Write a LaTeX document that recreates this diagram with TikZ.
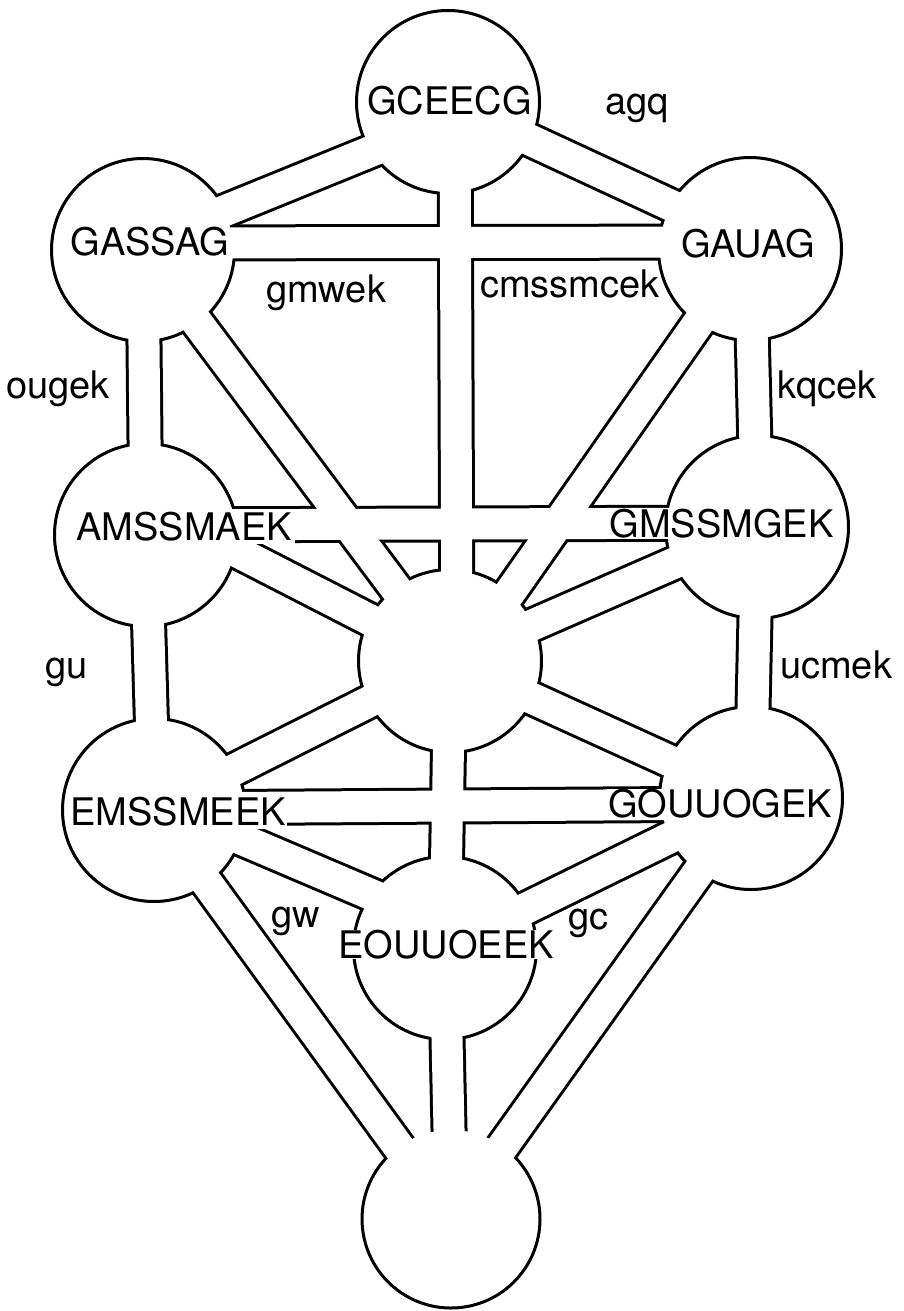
\documentclass[tikz,border=0pt]{standalone}
\usepackage{fontspec}
\setmainfont{TeX Gyre Heros}
\usetikzlibrary{calc}
\begin{document}
\begin{tikzpicture}[x=1pt,y=-1pt,
  chanb/.style={line width=37pt, draw=black, line cap=butt},
  chanw/.style={line width=31pt, draw=white, line cap=butt},
  sefira/.style={circle, draw=black, fill=white, line width=3pt, minimum size=183pt, inner sep=0pt, outer sep=0pt},
  big/.style={font=\fontsize{38pt}{40pt}\selectfont, text height=27.3pt, text depth=0pt, inner sep=1pt, fill=white, anchor=base},
  lab/.style={font=\fontsize{38pt}{40pt}\selectfont, inner sep=0pt, anchor=base west},
]
\fill[white] (0,0) rectangle (904,1311);
\useasboundingbox (0,0) rectangle (904,1311);

% centres of the circles
\coordinate (k)  at (448,102);
\coordinate (gs) at (143,250);
\coordinate (ga) at (750,249);
\coordinate (am) at (146,535);
\coordinate (gm) at (757,527);
\coordinate (t)  at (450,661);
\coordinate (em) at (154,810);
\coordinate (go) at (751,798);
\coordinate (eo) at (445,948);
\coordinate (m)  at (451,1219);

\def\chanlist{k/0/18/gs/0/-6, k/0/0/ga/0/-7, k/7/0/t/7/0, gs/0/-7/ga/0/-7,
  gs/0/0/am/0/0, gs/0/0/t/0/0, ga/0/0/gm/0/0, ga/0/0/t/12/0,
  am/0/-10/gm/0/-4, am/0/-30/t/0/0, gm/0/0/t/0/0, am/0/0/em/0/0,
  gm/0/0/go/0/0, em/0/0/t/0/0, go/0/0/t/0/0, em/0/-2/go/0/6,
  t/0/0/eo/0/0, em/0/-8/eo/0/-22, go/0/0/eo/0/0, eo/0/0/m/0/0,
  em/0/0/m/0/0, go/0/0/m/0/0}

% black outer strokes of the channels
\foreach \a/\ax/\ay/\b/\bx/\by in \chanlist {
  \draw[chanb] ($(\a)+(\ax,\ay)$) -- ($(\b)+(\bx,\by)$);
}

% circles
\node[sefira] (kn)  at (k)  {};
\node[sefira] (gsn) at (gs) {};
\node[sefira] (gan) at (ga) {};
\node[sefira] (amn) at (am) {};
\node[sefira] (gmn) at (gm) {};
\node[sefira] (tn)  at (t)  {};
\node[sefira] (emn) at (em) {};
\node[sefira] (gon) at (go) {};
\node[sefira] (eon) at (eo) {};
\node[circle, fill=white, minimum size=178pt, inner sep=0pt, outer sep=0pt] (mn) at (m) {};
\draw[line width=3pt] (mn.50) arc[start angle=50, end angle=-230, radius=89pt];

% white inner strokes of the channels
\foreach \a/\ax/\ay/\b/\bx/\by in \chanlist {
  \draw[chanw] ($(\a)+(\ax,\ay)$) -- ($(\b)+(\bx,\by)$);
}

% names
\node[big] (tk)  at (449.5,115) {GCEECG};
\node[big] (tgs) at (150,255) {GASSAG};
\node[big] (tga) at (748,257) {GAUAG};
\node[big, inner ysep=4pt, inner xsep=3pt] (tam) at (184,540) {AMSSMAEK};
\node[big] (tgm) at (721.5,537) {GMSSMGEK};
\node[big, inner ysep=4pt, inner xsep=1pt] (tem) at (178,825) {EMSSMEEK};
\node[big] (tgo) at (720,817) {GOUUOGEK};
\node[big] (teo) at (446,958) {EOUUOEEK};

% path labels
\node[lab] (l1) at (605,115) {agq};
\node[lab] (l2) at (266,302) {gmwek};
\node[lab] (l3) at (480,297) {cmssmcek};
\node[lab] (l4) at (6,398) {ougek};
\node[lab] (l5) at (777,398) {kqcek};
\node[lab] (l6) at (45,678) {gu};
\node[lab] (l7) at (780,678) {ucmek};
\node[lab] (l8) at (271,927) {gw};
\node[lab] (l9) at (568,929) {gc};
\end{tikzpicture}
\end{document}
